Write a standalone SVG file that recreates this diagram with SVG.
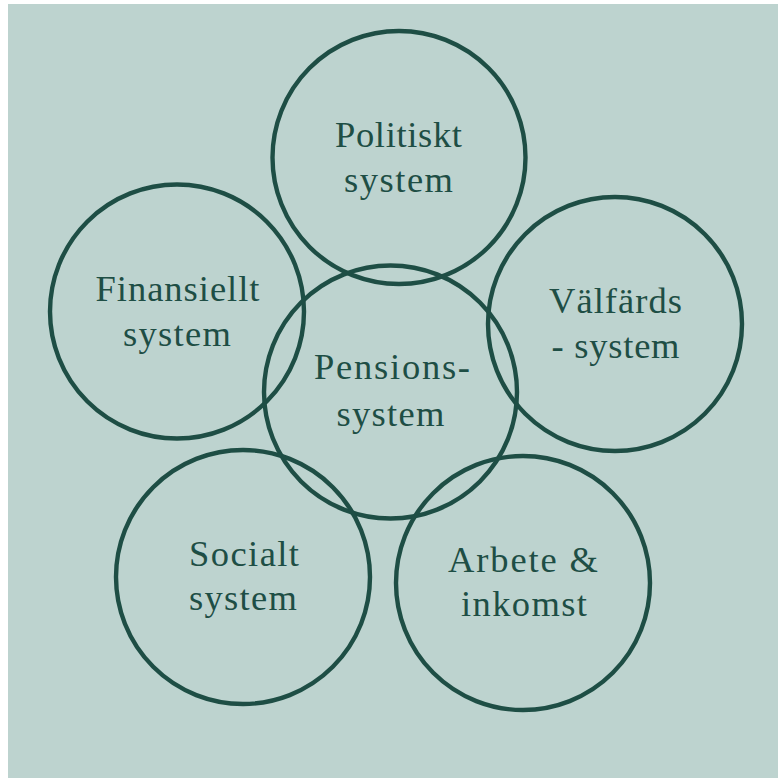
<svg xmlns="http://www.w3.org/2000/svg" width="778" height="778" viewBox="0 0 778 778">
<style>
.c{fill:none;stroke:#1e4e45;stroke-width:4.4}
.t{font-family:"Liberation Serif","Times New Roman",serif;font-size:36.5px;fill:#1e4e45}
</style>
<rect x="0" y="0" width="778" height="778" fill="#ffffff"/>
<rect x="8" y="4" width="770" height="774" fill="#bdd3cf"/>
<g id="connectors"></g>
<g id="node-politiskt">
<circle class="c" cx="399" cy="157.5" r="126.5"/>
<text class="t" x="335" y="147" textLength="127" lengthAdjust="spacing">Politiskt</text>
<text class="t" x="344" y="192" textLength="109" lengthAdjust="spacing">system</text>
</g>
<g id="node-finansiellt">
<circle class="c" cx="177" cy="311.5" r="127"/>
<text class="t" x="95.5" y="301" textLength="164" lengthAdjust="spacing">Finansiellt</text>
<text class="t" x="123" y="346" textLength="108" lengthAdjust="spacing">system</text>
</g>
<g id="node-valfards">
<circle class="c" cx="615" cy="324" r="127"/>
<text class="t" x="549" y="313" textLength="133" lengthAdjust="spacing">Välfärds</text>
<text class="t" x="551.5" y="358" textLength="128" lengthAdjust="spacing">- system</text>
</g>
<g id="node-pensions">
<circle class="c" cx="390.5" cy="392" r="126.5"/>
<text class="t" x="314" y="379" textLength="156" lengthAdjust="spacing">Pensions-</text>
<text class="t" x="336.5" y="426" textLength="108" lengthAdjust="spacing">system</text>
</g>
<g id="node-socialt">
<circle class="c" cx="243" cy="577" r="127"/>
<text class="t" x="189" y="566" textLength="110" lengthAdjust="spacing">Socialt</text>
<text class="t" x="189" y="610" textLength="108" lengthAdjust="spacing">system</text>
</g>
<g id="node-arbete">
<circle class="c" cx="523" cy="583" r="127"/>
<text class="t" x="448" y="572" textLength="150" lengthAdjust="spacing">Arbete &amp;</text>
<text class="t" x="461" y="616" textLength="126" lengthAdjust="spacing">inkomst</text>
</g>
</svg>
